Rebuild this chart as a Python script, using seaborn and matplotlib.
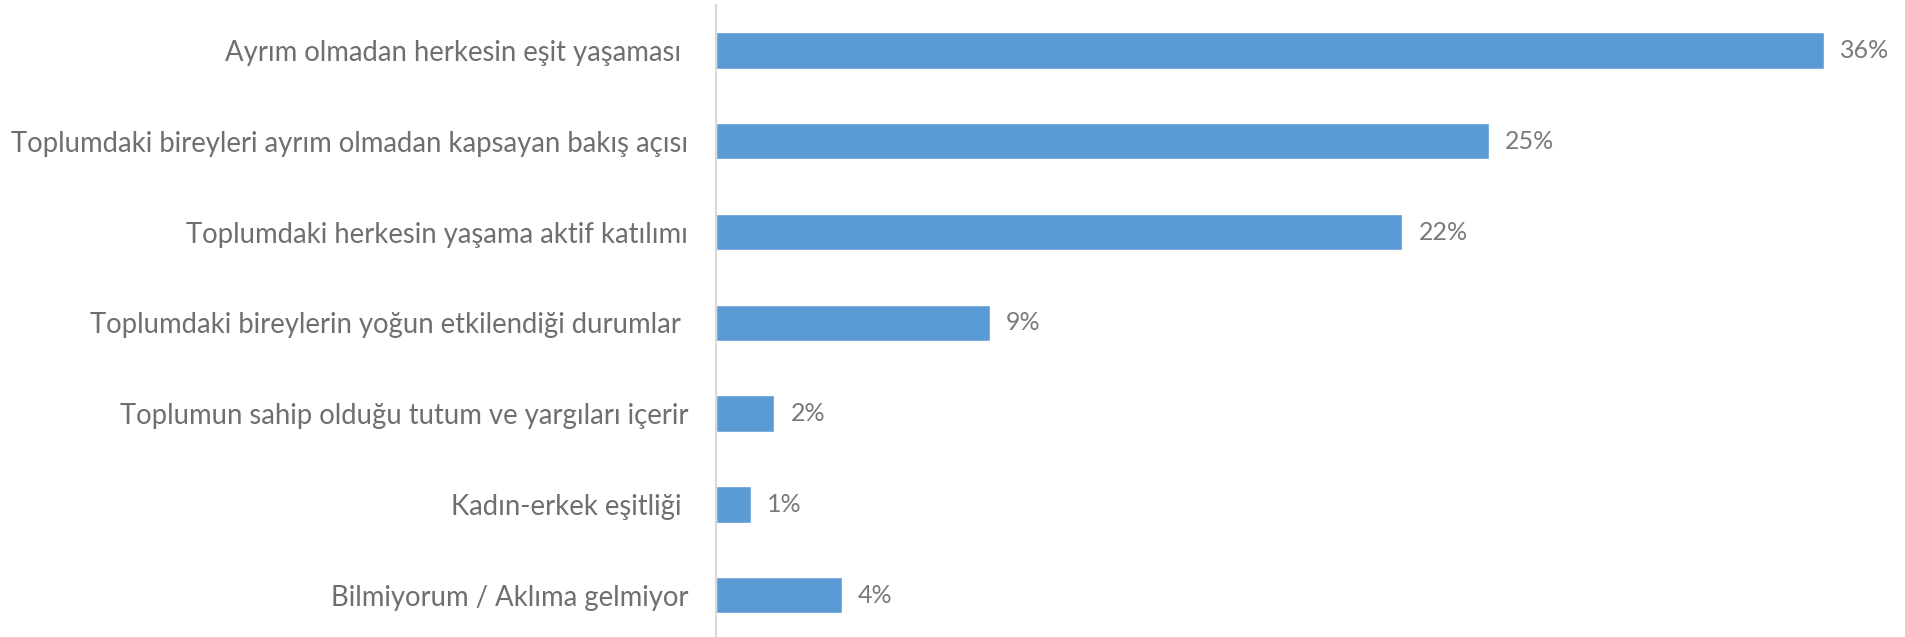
import matplotlib
matplotlib.use("Agg")
import matplotlib.pyplot as plt
import seaborn as sns
import pandas as pd

categories = [
    "Ayrım olmadan herkesin eşit yaşaması ",
    "Toplumdaki bireyleri ayrım olmadan kapsayan bakış açısı",
    "Toplumdaki herkesin yaşama aktif katılımı",
    "Toplumdaki bireylerin yoğun etkilendiği durumlar ",
    "Toplumun sahip olduğu tutum ve yargıları içerir",
    "Kadın-erkek eşitliği ",
    "Bilmiyorum / Aklıma gelmiyor",
]
values = [36.0, 25.1, 22.3, 8.9, 1.9, 1.15, 4.1]
value_labels = ["36%", "25%", "22%", "9%", "2%", "1%", "4%"]

sns.set_theme(style="white")
plt.rcParams["font.family"] = ["Lato", "DejaVu Sans"]

df = pd.DataFrame({"cat": categories, "val": values})

W, H = 1905, 637
fig = plt.figure(figsize=(W / 100, H / 100), dpi=100)
left = 716 / W
ax = fig.add_axes([left, 0.0, 1 - left, (H - 5) / H])

sns.barplot(data=df, x="val", y="cat", orient="h", color="#5B9BD5",
            saturation=1, width=0.40, ax=ax)

ax.set_xlim(0, (W - 716) / 30.78)
ax.set_ylim(6.46, -0.5)
ax.set_xlabel("")
ax.set_ylabel("")
ax.set_xticks([])
for s in ["top", "right", "bottom"]:
    ax.spines[s].set_visible(False)
ax.spines["left"].set_color("#D9D9D9")
ax.spines["left"].set_linewidth(1.5)
ax.tick_params(axis="y", length=0, pad=20, labelsize=19.8, labelcolor="#6F6F6F")

for p, lab in zip(ax.patches, value_labels):
    ax.text(p.get_width() + 0.52, p.get_y() + p.get_height() / 2, lab,
            va="center", ha="left", fontsize=18, color="#7A7A7A")

fig.savefig("out.png", dpi=100)
